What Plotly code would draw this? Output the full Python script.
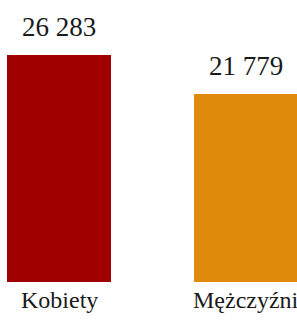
import plotly.graph_objects as go

categories = ["Kobiety", "Mężczyźni"]
values = [26283, 21779]
colors = ["#A00000", "#DF8A0B"]

labels = [f"{v:,}".replace(",", " ") for v in values]
FONT = "Liberation Serif, Times New Roman, serif"

fig = go.Figure()
fig.add_trace(go.Bar(
    x=categories, y=values, marker=dict(color=colors, line=dict(width=0)),
    width=0.556, showlegend=False, hoverinfo="skip",
))
for c, v, t in zip(categories, values, labels):
    fig.add_annotation(x=c, y=v, text=t, showarrow=False, yanchor="bottom",
                       yshift=11, font=dict(family=FONT, size=27, color="#1a1a1a"))
    fig.add_annotation(x=c, y=0, text=c, showarrow=False, yanchor="top",
                       yshift=-3, font=dict(family=FONT, size=24, color="#1a1a1a"))

fig.update_layout(
    width=297, height=325,
    margin=dict(l=0, r=0, t=0, b=43),
    paper_bgcolor="white", plot_bgcolor="white",
    font=dict(family=FONT),
    xaxis=dict(range=[-0.3155, 1.2727], showgrid=False, showline=False, zeroline=False,
               ticks="", showticklabels=False, automargin=False),
    yaxis=dict(range=[0, 32651], visible=False, showgrid=False, zeroline=False),
)
fig.write_html("out.html", config={"displayModeBar": False},
               post_script="document.body.style.margin='0';document.body.style.overflow='hidden';")
